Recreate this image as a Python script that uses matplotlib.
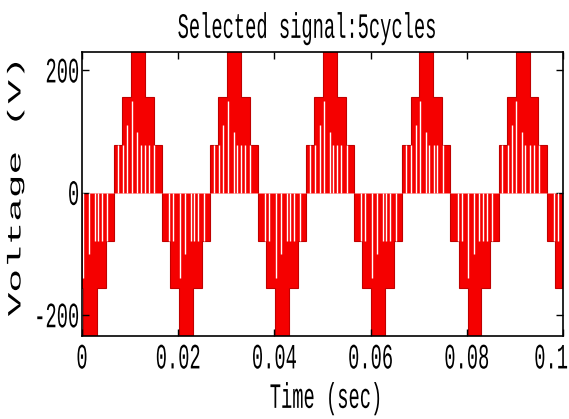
import numpy as np
import matplotlib
matplotlib.use("Agg")
import matplotlib.pyplot as plt
from matplotlib import patheffects
from matplotlib.transforms import Affine2D, ScaledTranslation

# ---- data (times in ms) ----
pos_peaks_ms = [11.6, 31.6, 51.6, 71.6, 91.6]
neg_peaks_ms = [1.6, 21.6, 41.6, 61.6, 81.6, 101.6]
level_volts = [78, 156, 234]
level_widths_ms = [10.0, 6.6, 2.9]

pos_gap_offsets_ms = [-4.2, -3.1, -2.2, -1.3, -0.1, 0.6, 1.5, 2.3, 3.4]
pos_gap_depths = [78, 78, 110, 150, 100, 78, 78, 78, 78]
neg_gap_offsets_ms = [-3.5, -2.7, -1.3, -0.2, 1.0, 1.7, 2.5, 3.7]
neg_gap_depths = [78, 78, 140, 100, 78, 78, 78, 78]

xticks = [0, 0.02, 0.04, 0.06, 0.08, 0.1]
xticklabels = ["0", "0.02", "0.04", "0.06", "0.08", "0.1"]
yticks = [-200, 0, 200]
yticklabels = ["-200", "0", "200"]


class VStretch(patheffects.AbstractPathEffect):
    # stretch glyphs vertically about their centre (the source image is squashed)
    def __init__(self, sy=1.9):
        super().__init__()
        self.sy = sy

    def draw_path(self, renderer, gc, tpath, affine, rgbFace=None):
        bb = tpath.get_extents(affine)
        cy = 0.5 * (bb.y0 + bb.y1)
        st = Affine2D().translate(0, -cy).scale(1, self.sy).translate(0, cy)
        renderer.draw_path(gc, tpath, affine + st, rgbFace)


def half_cycle(ax, peak_ms, sign, offsets, depths):
    w = np.array(level_widths_ms) / 2.0
    edges = np.array([-w[0], -w[1], -w[2], w[2], w[1], w[0]]) + peak_ms
    vals = sign * np.array([level_volts[0], level_volts[1], level_volts[2],
                            level_volts[1], level_volts[0]])
    ax.stairs(vals, edges / 1000.0, baseline=0, fill=True,
              facecolor="#f50000", edgecolor="#c00000", linewidth=0.8)
    gx = (peak_ms + np.array(offsets)) / 1000.0
    ax.vlines(gx, 0, sign * np.array(depths), colors="white", linewidth=1.0)


W, H = 569, 419
fig = plt.figure(figsize=(W / 100, H / 100), dpi=100)
ax = fig.add_axes([82 / W, 1 - 336 / H, (563 - 82) / W, (336 - 52) / H])

for p in pos_peaks_ms:
    half_cycle(ax, p, 1, pos_gap_offsets_ms, pos_gap_depths)
for p in neg_peaks_ms:
    half_cycle(ax, p, -1, neg_gap_offsets_ms, neg_gap_depths)

ax.set_xlim(0, 0.1)
ax.set_ylim(-234, 230)

font = "Liberation Mono"
fs = 13.5
st = [VStretch(1.9)]

ax.set_xticks(xticks)
ax.set_xticklabels(xticklabels)
ax.set_yticks(yticks)
ax.set_yticklabels(yticklabels)
ax.tick_params(direction="in", length=5, width=1, top=True, right=True,
               labelsize=fs, colors="black")
ax.tick_params(axis="x", pad=10)
ax.tick_params(axis="y", pad=2)
for lab in ax.get_xticklabels() + ax.get_yticklabels():
    lab.set_fontfamily(font)
    lab.set_path_effects(st)
# last x label sits against the right edge of the figure
last = ax.get_xticklabels()[-1]
last.set_horizontalalignment("right")
last.set_transform(last.get_transform() + ScaledTranslation(5 / 100, 0, fig.dpi_scale_trans))
for s in ax.spines.values():
    s.set_linewidth(1.2)

fig.text(307 / W, 1 - 29 / H, "Selected signal:5cycles", ha="center", va="center",
         fontsize=fs, family=font, path_effects=st)
fig.text(326 / W, 1 - 399 / H, "Time (sec)", ha="center", va="center",
         fontsize=fs, family=font, path_effects=st)
fig.text(16 / W, 1 - 188 / H, "Voltage (V)", ha="center", va="center",
         rotation=90, fontsize=fs, family=font, path_effects=[VStretch(2.1)])

fig.savefig("out.png", dpi=100)
